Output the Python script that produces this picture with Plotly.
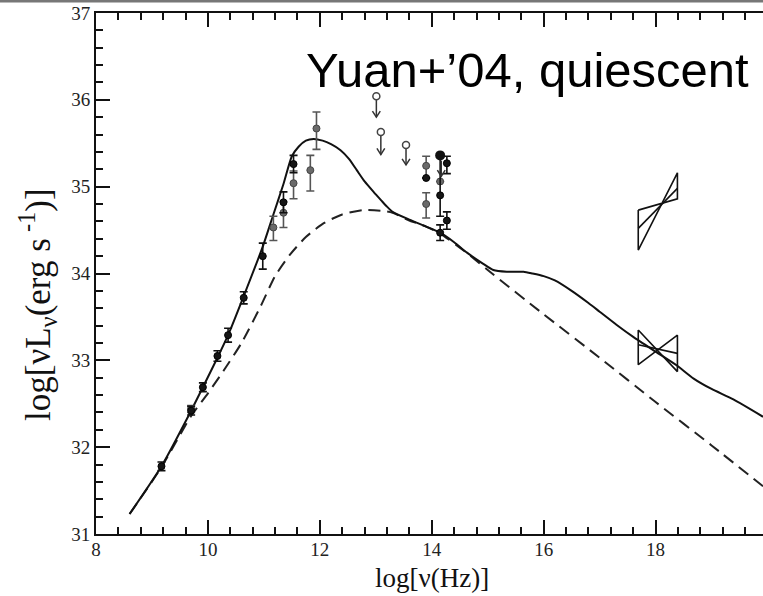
import plotly.graph_objects as go

# ---------------- data ----------------
# model curves: log nu vs log nuL_nu
solid_x = [8.60, 9.17, 9.70, 9.91, 10.17, 10.36, 10.64, 10.98, 11.17, 11.35, 11.50, 11.62,
           11.75, 11.89, 12.05, 12.20, 12.37, 12.52, 12.66, 12.80, 12.96, 13.10, 13.20,
           13.30, 13.60, 13.90, 14.15, 14.40, 14.63, 14.90, 15.10, 15.34, 15.64, 15.80,
           16.00, 16.20, 16.50, 16.80, 17.00, 17.30, 17.60, 18.00, 18.38, 18.68, 19.00,
           19.39, 19.92]
solid_y = [31.23, 31.78, 32.42, 32.69, 33.03, 33.29, 33.74, 34.31, 34.68, 35.03, 35.35, 35.46,
           35.53, 35.55, 35.53, 35.49, 35.42, 35.32, 35.19, 35.06, 34.94, 34.84, 34.77,
           34.71, 34.62, 34.54, 34.47, 34.36, 34.24, 34.12, 34.04, 34.02, 34.02, 34.00,
           33.97, 33.92, 33.80, 33.66, 33.56, 33.41, 33.27, 33.10, 32.94, 32.79, 32.67,
           32.55, 32.35]

dashed_x = [8.60, 9.17, 9.70, 10.00, 10.30, 10.60, 10.94, 11.20, 11.47, 11.75, 12.07, 12.40,
            12.78, 13.14, 13.30, 13.60, 13.90, 14.15, 14.60, 15.00, 16.00, 17.00, 18.00,
            19.00, 19.92]
dashed_y = [31.23, 31.77, 32.36, 32.62, 32.90, 33.20, 33.62, 33.97, 34.22, 34.42, 34.58, 34.68,
            34.73, 34.72, 34.70, 34.61, 34.54, 34.46, 34.25, 34.04, 33.53, 33.03, 32.52,
            32.02, 31.55]

# measured points (dark)
dark_x = [9.17, 9.70, 9.91, 10.17, 10.36, 10.64, 10.98, 11.35, 11.53, 13.90, 14.15, 14.15, 14.27, 14.27]
dark_y = [31.78, 32.42, 32.69, 33.05, 33.29, 33.72, 34.20, 34.82, 35.26, 35.10, 34.90, 34.47, 35.27, 34.61]
dark_ep = [0.05, 0.05, 0.05, 0.06, 0.08, 0.07, 0.15, 0.12, 0.10, 0.0, 0.45, 0.09, 0.08, 0.10]
dark_em = [0.05, 0.05, 0.05, 0.06, 0.08, 0.07, 0.15, 0.12, 0.10, 0.0, 0.24, 0.09, 0.12, 0.10]

# measured points (grey)
grey_x = [9.70, 11.17, 11.35, 11.53, 11.83, 11.94, 13.90, 13.90, 14.15]
grey_y = [32.44, 34.53, 34.70, 35.04, 35.19, 35.67, 35.24, 34.80, 35.06]
grey_ep = [0.04, 0.13, 0.13, 0.14, 0.17, 0.19, 0.11, 0.13, 0.0]
grey_em = [0.04, 0.15, 0.17, 0.18, 0.24, 0.24, 0.14, 0.16, 0.0]

# large dot
big_x = [14.15]
big_y = [35.36]

# upper limits (circle position and arrow tip)
lim_x = [13.01, 13.09, 13.54, 14.17]
lim_y = [36.04, 35.63, 35.48, 35.30]
lim_tip = [35.80, 35.37, 35.25, 35.12]

# X-ray bow-ties: [x_left, x_right, left_top, left_bottom, right_top, right_bottom, left_mid, right_mid]
bow_hi = [17.69, 18.39, 34.73, 34.27, 35.16, 34.86, 34.52, 34.98]
bow_lo = [17.69, 18.39, 33.35, 32.95, 33.29, 32.87, 33.18, 33.08]

x_major = [8, 10, 12, 14, 16, 18]
x_labels = ["8", "10", "12", "14", "16", "18"]
y_major = [31, 32, 33, 34, 35, 36, 37]
y_labels = ["31", "32", "33", "34", "35", "36", "37"]

SERIF = "Liberation Serif, Times New Roman, serif"
SANS = "Liberation Sans, Arial, sans-serif"

fig = go.Figure()

fig.add_trace(go.Scatter(x=dashed_x, y=dashed_y, mode="lines",
                         line=dict(color="#222", width=2, dash="12px,7px", shape="spline", smoothing=0.6),
                         hoverinfo="skip", showlegend=False))
fig.add_trace(go.Scatter(x=solid_x, y=solid_y, mode="lines",
                         line=dict(color="#111", width=2, shape="spline", smoothing=0.6),
                         hoverinfo="skip", showlegend=False))


def bowtie(b):
    xl, xr, lt, lb, rt, rb, lm, rm = b
    xs = [xl, xl, xr, xr, xl, None, xl, xr]
    ys = [lt, lb, rt, rb, lt, None, lm, rm]
    return xs, ys


for b in (bow_hi, bow_lo):
    bx, by = bowtie(b)
    fig.add_trace(go.Scatter(x=bx, y=by, mode="lines", line=dict(color="#111", width=1.6),
                             hoverinfo="skip", showlegend=False))

fig.add_trace(go.Scatter(x=grey_x, y=grey_y, mode="markers",
                         marker=dict(size=7, color="#6a6a6a", line=dict(color="#444", width=1)),
                         error_y=dict(type="data", symmetric=False, array=grey_ep, arrayminus=grey_em,
                                      color="#555", thickness=1.6, width=4),
                         hoverinfo="skip", showlegend=False))
fig.add_trace(go.Scatter(x=dark_x, y=dark_y, mode="markers",
                         marker=dict(size=7, color="#151515", line=dict(color="#000", width=1)),
                         error_y=dict(type="data", symmetric=False, array=dark_ep, arrayminus=dark_em,
                                      color="#111", thickness=1.6, width=4),
                         hoverinfo="skip", showlegend=False))
fig.add_trace(go.Scatter(x=big_x, y=big_y, mode="markers",
                         marker=dict(size=10, color="#111"),
                         hoverinfo="skip", showlegend=False))

# upper limit arrows
ax_, ay_ = [], []
arm_dx, arm_dy = 0.07, 0.07
for x0, y0, t in zip(lim_x, lim_y, lim_tip):
    ax_ += [x0, x0, None, x0 - arm_dx, x0, x0 + arm_dx, None]
    ay_ += [y0, t, None, t + arm_dy, t, t + arm_dy, None]
fig.add_trace(go.Scatter(x=ax_, y=ay_, mode="lines", line=dict(color="#333", width=1.5),
                         hoverinfo="skip", showlegend=False))
fig.add_trace(go.Scatter(x=lim_x[:3], y=lim_y[:3], mode="markers",
                         marker=dict(size=7, color="white", line=dict(color="#444", width=1.5)),
                         hoverinfo="skip", showlegend=False))

# layout geometry (pixels)
W, H = 763, 596
L, R, T, B = 96, 0, 13, 62
pw, ph = W - L - R, H - T - B


def px(xp):
    return (xp - L) / pw


def py(yp):
    return (H - B - yp) / ph


tick_common = dict(ticks="inside", ticklen=14, tickwidth=1.5, tickcolor="#111",
                   showline=True, linecolor="#111", linewidth=2,
                   showgrid=False, zeroline=False,
                   tickfont=dict(family=SERIF, size=19, color="#222"))

fig.update_layout(
    width=W, height=H,
    margin=dict(l=L, r=R, t=T, b=B, pad=0),
    paper_bgcolor="white", plot_bgcolor="white",
    showlegend=False,
    xaxis=dict(range=[8, 8 + pw / 55.96], tickmode="array", tickvals=x_major, ticktext=x_labels,
               mirror="ticks", ticklabelstandoff=-3,
               minor=dict(dtick=0.4, tick0=8, ticks="inside", ticklen=7, tickwidth=1.5,
                          tickcolor="#111", showgrid=False),
               **tick_common),
    yaxis=dict(range=[31, 37], tickmode="array", tickvals=y_major, ticktext=y_labels,
               mirror=False,
               minor=dict(dtick=0.2, tick0=31, ticks="inside", ticklen=7, tickwidth=1.5,
                          tickcolor="#111", showgrid=False),
               **tick_common),
    annotations=[
        dict(text="Yuan+’04, quiescent", xref="paper", yref="paper", x=px(751), y=py(70),
             xanchor="right", yanchor="middle", showarrow=False,
             font=dict(family=SANS, size=49, color="#000")),
        dict(text="log[ν(Hz)]", xref="paper", yref="paper", x=px(432), y=py(595),
             xanchor="center", yanchor="bottom", showarrow=False,
             font=dict(family=SERIF, size=27, color="#111")),
        dict(text="log[νL<sub>ν</sub>(erg s<sup> -1</sup>)]", xref="paper", yref="paper",
             x=px(37), y=py(305), xanchor="center", yanchor="middle", textangle=-90,
             showarrow=False, font=dict(family=SERIF, size=35, color="#111")),
    ],
    shapes=[
        dict(type="line", xref="paper", yref="paper", x0=px(0), x1=px(W), y0=py(1), y1=py(1),
             line=dict(color="#777", width=3)),
    ],
)

fig.write_html("out.html", config={"displayModeBar": False},
               post_script="document.body.style.margin='0';document.body.style.padding='0';"
                           "document.documentElement.style.overflow='hidden';")
